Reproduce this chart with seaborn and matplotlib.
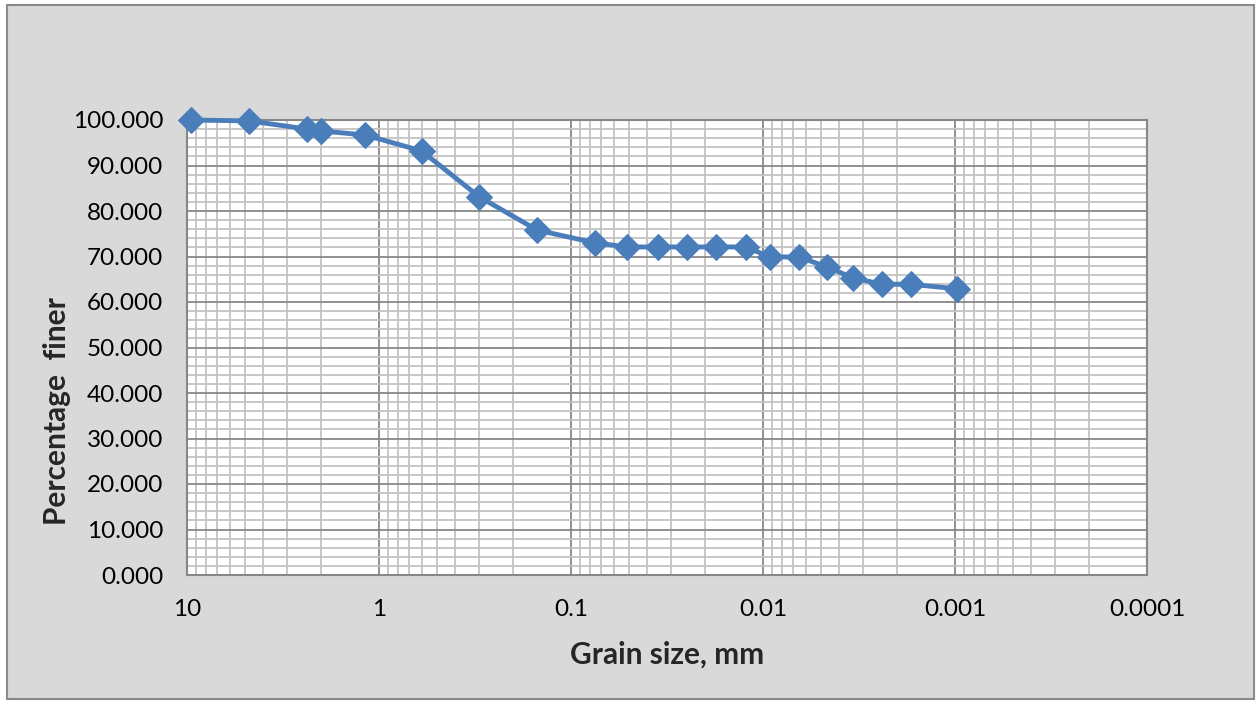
import numpy as np
import pandas as pd
import matplotlib
matplotlib.use('Agg')
import matplotlib.pyplot as plt
import seaborn as sns
from matplotlib.patches import Rectangle
from matplotlib.ticker import LogLocator, FixedLocator, MultipleLocator, FuncFormatter

# valores (curva granulometrica)
grain_size = [9.5, 4.75, 2.36, 2.0, 1.18, 0.6, 0.3, 0.15, 0.075, 0.051, 0.0352,
              0.0249, 0.0176, 0.0123, 0.0092, 0.0065, 0.00464, 0.0034, 0.0024,
              0.0017, 0.00098]
pct_finer = [100.0, 99.8, 98.0, 97.6, 96.7, 93.2, 83.1, 75.8, 73.0, 72.1, 72.1,
             72.1, 72.1, 72.1, 69.9, 69.9, 67.7, 65.3, 63.9, 63.9, 62.9]
x_ticks = [10, 1, 0.1, 0.01, 0.001, 0.0001]
x_tick_labels = ['10', '1', '0.1', '0.01', '0.001', '0.0001']

dados = pd.DataFrame({'grain': grain_size, 'finer': pct_finer})

sns.set_style('white')
plt.rcParams['font.family'] = ['Lato', 'DejaVu Sans']

fig = plt.figure(figsize=(12.57, 7.02), dpi=100)
fig.patch.set_facecolor('white')
# moldura cinza do grafico
moldura = Rectangle((7 / 1257, 1 - 699 / 702), 1247 / 1257, 694 / 702,
                    transform=fig.transFigure, facecolor='#d9d9d9',
                    edgecolor='#8a8a8a', linewidth=1.5, zorder=-10)
fig.add_artist(moldura)

ax = fig.add_axes([187 / 1257, 1 - 575 / 702, 960 / 1257, 455 / 702])
ax.set_zorder(1)
ax.set_facecolor('white')

sns.lineplot(data=dados, x='grain', y='finer', ax=ax, color='#4a7ebb', linewidth=3.5,
             marker='D', markersize=13, markeredgecolor='#4a7ebb', sort=False,
             clip_on=False, zorder=5)

ax.set_xscale('log')
ax.set_xlim(10, 0.0001)
ax.set_ylim(0, 100)

ax.xaxis.set_major_locator(FixedLocator(x_ticks))
ax.xaxis.set_major_formatter(FuncFormatter(lambda v, p: x_tick_labels[p] if p is not None and p < len(x_tick_labels) else ''))
ax.xaxis.set_minor_locator(LogLocator(base=10, subs=np.arange(2, 10), numticks=20))
ax.xaxis.set_minor_formatter(FuncFormatter(lambda v, p: ''))
ax.yaxis.set_major_locator(MultipleLocator(10))
ax.yaxis.set_minor_locator(MultipleLocator(2))
ax.yaxis.set_major_formatter(FuncFormatter(lambda v, p: f'{v:.3f}'))

ax.grid(which='major', color='#878787', linewidth=1.3)
ax.grid(which='minor', color='#c3c3c3', linewidth=1.3)
ax.set_axisbelow(True)
for s in ax.spines.values():
    s.set_color('#878787')
    s.set_linewidth(1.5)

ax.tick_params(which='both', length=0, labelsize=17.5, colors='black')
ax.tick_params(axis='x', pad=17)
ax.tick_params(axis='y', pad=17)

ax.set_xlabel('Grain size, mm', fontsize=21.5, fontweight='bold', va='center')
ax.set_ylabel('Percentage  finer', fontsize=21.5, fontweight='bold', va='center')
ax.xaxis.set_label_coords(0.5, -0.176)
ax.yaxis.set_label_coords(-0.135, 0.36)

fig.savefig('out.png', dpi=100, facecolor=fig.get_facecolor())
